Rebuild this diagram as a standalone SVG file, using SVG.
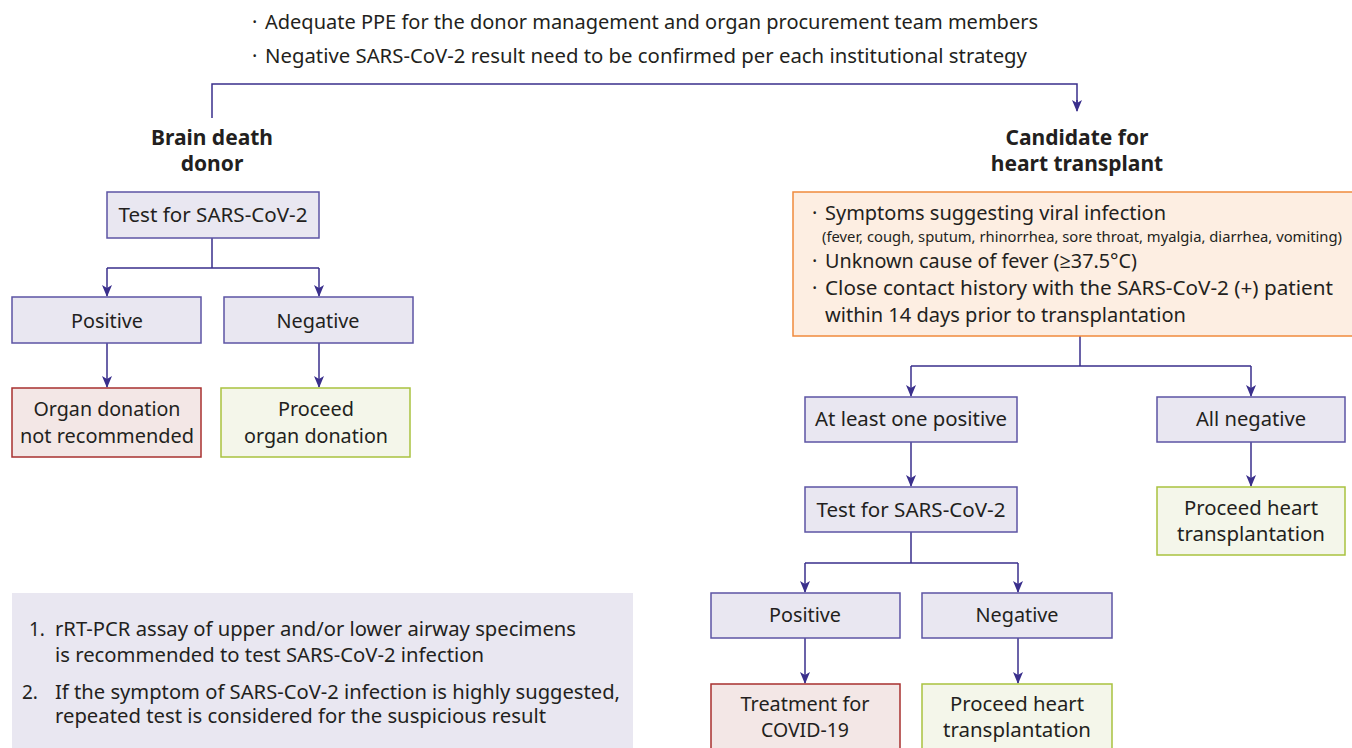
<svg xmlns="http://www.w3.org/2000/svg" width="1352" height="748" viewBox="0 0 1352 748">
<defs>
<marker id="arr" markerUnits="userSpaceOnUse" markerWidth="12" markerHeight="12" viewBox="0 0 12 12" refX="11" refY="6" orient="auto">
<path d="M0,1 L12,6 L0,11 L3,6 Z" fill="#3a2f8c"/>
</marker>
</defs>
<style>
text{font-family:"Noto Sans","Open Sans","Liberation Sans",sans-serif;fill:#231f20;font-size:20px}
.c{text-anchor:middle}
.b{font-weight:bold;font-size:21px}
.s{font-size:14px}
.n{font-size:19px}
.box{fill:#e9e7f1;stroke:#5c54a4;stroke-width:1.5}
.red{fill:#f3e7e6;stroke:#a8302f;stroke-width:1.5}
.grn{fill:#f4f6ea;stroke:#a9c23f;stroke-width:1.5}
.org{fill:#fdeee2;stroke:#f08a3c;stroke-width:1.5}
.note{fill:#e9e7f1}
.ln{fill:none;stroke:#3a2f8c;stroke-width:1.5}
.ar{marker-end:url(#arr)}
</style>
<rect width="1352" height="748" fill="#ffffff"/>

<g id="header">
<text x="252" y="29">·</text>
<text x="265" y="29" textLength="773" lengthAdjust="spacingAndGlyphs">Adequate PPE for the donor management and organ procurement team members</text>
<text x="252" y="63">·</text>
<text x="265" y="63" textLength="762" lengthAdjust="spacingAndGlyphs">Negative SARS-CoV-2 result need to be confirmed per each institutional strategy</text>
</g>

<g id="connectors">
<path class="ln" d="M212,118 V84 H1077 V110"/>
<path class="ln ar" d="M1077,100 V111"/>
<path class="ln" d="M212,238 V268 H319 M212,268 H107"/>
<path class="ln ar" d="M107,268 V296"/>
<path class="ln ar" d="M319,268 V296"/>
<path class="ln ar" d="M107,343 V387"/>
<path class="ln ar" d="M319,343 V387"/>
<path class="ln" d="M1080,336 V366 H1251 M1080,366 H911"/>
<path class="ln ar" d="M911,366 V396"/>
<path class="ln ar" d="M1251,366 V396"/>
<path class="ln ar" d="M911,442 V486"/>
<path class="ln ar" d="M1251,442 V486"/>
<path class="ln" d="M911,532 V563 H1018 M911,563 H805"/>
<path class="ln ar" d="M805,563 V592"/>
<path class="ln ar" d="M1018,563 V592"/>
<path class="ln ar" d="M805,638 V683"/>
<path class="ln ar" d="M1018,638 V683"/>
</g>

<g id="donor-title">
<text class="c b" x="212" y="145">Brain death</text>
<text class="c b" x="212" y="171">donor</text>
</g>

<g id="candidate-title">
<text class="c b" x="1077" y="145">Candidate for</text>
<text class="c b" x="1077" y="171">heart transplant</text>
</g>

<g id="donor-test">
<rect class="box" x="107" y="192" width="212" height="46"/>
<text class="c" x="213" y="222" textLength="189" lengthAdjust="spacingAndGlyphs">Test for SARS-CoV-2</text>
</g>
<g id="donor-positive">
<rect class="box" x="12" y="297" width="189" height="46"/>
<text class="c" x="107" y="328" textLength="72" lengthAdjust="spacingAndGlyphs">Positive</text>
</g>
<g id="donor-negative">
<rect class="box" x="224" y="297" width="189" height="46"/>
<text class="c" x="318" y="328" textLength="83" lengthAdjust="spacingAndGlyphs">Negative</text>
</g>
<g id="donor-not-recommended">
<rect class="red" x="12" y="388" width="189" height="69"/>
<text class="c" x="107" y="416" textLength="147" lengthAdjust="spacingAndGlyphs">Organ donation</text>
<text class="c" x="107" y="443" textLength="174" lengthAdjust="spacingAndGlyphs">not recommended</text>
</g>
<g id="donor-proceed">
<rect class="grn" x="221" y="388" width="189" height="69"/>
<text class="c" x="316" y="416" textLength="76" lengthAdjust="spacingAndGlyphs">Proceed</text>
<text class="c" x="316" y="443" textLength="144" lengthAdjust="spacingAndGlyphs">organ donation</text>
</g>

<g id="criteria">
<rect class="org" x="793" y="192" width="570" height="144"/>
<text x="812" y="220">·</text>
<text x="825" y="220" textLength="341" lengthAdjust="spacingAndGlyphs">Symptoms suggesting viral infection</text>
<text class="s" x="822" y="242" textLength="520" lengthAdjust="spacingAndGlyphs">(fever, cough, sputum, rhinorrhea, sore throat, myalgia, diarrhea, vomiting)</text>
<text x="812" y="268">·</text>
<text x="825" y="268" textLength="312" lengthAdjust="spacingAndGlyphs">Unknown cause of fever (≥37.5°C)</text>
<text x="812" y="295">·</text>
<text x="825" y="295" textLength="508" lengthAdjust="spacingAndGlyphs">Close contact history with the SARS-CoV-2 (+) patient</text>
<text x="825" y="322" textLength="361" lengthAdjust="spacingAndGlyphs">within 14 days prior to transplantation</text>
</g>

<g id="at-least-one-positive">
<rect class="box" x="805" y="397" width="212" height="45"/>
<text class="c" x="911" y="426" textLength="192" lengthAdjust="spacingAndGlyphs">At least one positive</text>
</g>
<g id="all-negative">
<rect class="box" x="1157" y="397" width="188" height="45"/>
<text class="c" x="1251" y="426" textLength="110" lengthAdjust="spacingAndGlyphs">All negative</text>
</g>
<g id="all-negative-proceed">
<rect class="grn" x="1157" y="487" width="188" height="68"/>
<text class="c" x="1251" y="515" textLength="134" lengthAdjust="spacingAndGlyphs">Proceed heart</text>
<text class="c" x="1251" y="541" textLength="148" lengthAdjust="spacingAndGlyphs">transplantation</text>
</g>
<g id="candidate-test">
<rect class="box" x="805" y="487" width="212" height="45"/>
<text class="c" x="911" y="517" textLength="189" lengthAdjust="spacingAndGlyphs">Test for SARS-CoV-2</text>
</g>
<g id="candidate-positive">
<rect class="box" x="711" y="593" width="189" height="45"/>
<text class="c" x="805" y="622" textLength="72" lengthAdjust="spacingAndGlyphs">Positive</text>
</g>
<g id="candidate-negative">
<rect class="box" x="922" y="593" width="190" height="45"/>
<text class="c" x="1017" y="622" textLength="83" lengthAdjust="spacingAndGlyphs">Negative</text>
</g>
<g id="treatment">
<rect class="red" x="711" y="684" width="189" height="70"/>
<text class="c" x="805" y="711" textLength="129" lengthAdjust="spacingAndGlyphs">Treatment for</text>
<text class="c" x="805" y="737" textLength="88" lengthAdjust="spacingAndGlyphs">COVID-19</text>
</g>
<g id="candidate-proceed">
<rect class="grn" x="922" y="684" width="190" height="70"/>
<text class="c" x="1017" y="711" textLength="134" lengthAdjust="spacingAndGlyphs">Proceed heart</text>
<text class="c" x="1017" y="737" textLength="148" lengthAdjust="spacingAndGlyphs">transplantation</text>
</g>

<g id="notes">
<rect class="note" x="12" y="593" width="621" height="160"/>
<text class="n" x="29" y="636">1.</text>
<text class="n" x="55" y="636" textLength="521" lengthAdjust="spacingAndGlyphs">rRT-PCR assay of upper and/or lower airway specimens</text>
<text class="n" x="55" y="662" textLength="429" lengthAdjust="spacingAndGlyphs">is recommended to test SARS-CoV-2 infection</text>
<text class="n" x="22" y="699">2.</text>
<text class="n" x="55" y="699" textLength="565" lengthAdjust="spacingAndGlyphs">If the symptom of SARS-CoV-2 infection is highly suggested,</text>
<text class="n" x="55" y="723" textLength="491" lengthAdjust="spacingAndGlyphs">repeated test is considered for the suspicious result</text>
</g>
</svg>
